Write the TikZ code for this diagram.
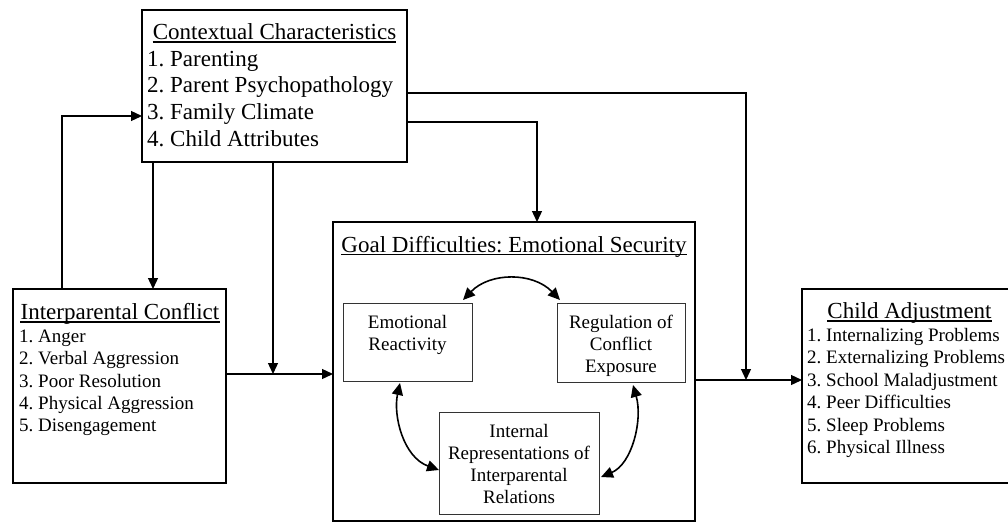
\documentclass[tikz,border=0pt]{standalone}
\usepackage{fontspec}
\setmainfont{Liberation Serif}
\usetikzlibrary{arrows.meta,calc}
\frenchspacing
\begin{document}
\begin{tikzpicture}[x=1pt,y=-1pt,
  bigbox/.style={draw, line width=2.8pt, inner sep=0pt, outer sep=0pt},
  smallbox/.style={draw=black!80, line width=0.9pt, inner sep=0pt, outer sep=0pt},
  ttl/.style={font=\fontsize{23}{26}\selectfont, anchor=base, inner sep=0pt},
  big/.style={font=\fontsize{23}{26}\selectfont, anchor=base west, inner sep=0pt},
  itm/.style={font=\fontsize{19}{22}\selectfont, anchor=base west, inner sep=0pt},
  ctr/.style={font=\fontsize{19}{22}\selectfont, anchor=base, inner sep=0pt},
  conn/.style={line width=1.3pt, -{Triangle[length=11pt,width=10pt]}},
  darr/.style={line width=1.6pt, {Triangle[length=12pt,width=11pt]}-{Triangle[length=12pt,width=11pt]}},
  uline/.style={line width=1.1pt}
]
\useasboundingbox (0,0) rectangle (1008,525);
% boxes
\node[bigbox, minimum width=265pt, minimum height=152pt] (ctx) at (274.5,86) {};
\node[bigbox, minimum width=213pt, minimum height=194pt] (ipc) at (119.5,386) {};
\node[bigbox, minimum width=211pt, minimum height=194pt] (cad) at (907.5,386) {};
\node[bigbox, minimum width=362pt, minimum height=299pt] (goal) at (514,371.5) {};
\node[smallbox, minimum width=129pt, minimum height=78pt] (er) at (407.5,342) {};
\node[smallbox, minimum width=128pt, minimum height=79pt] (rc) at (621,342.5) {};
\node[smallbox, minimum width=160pt, minimum height=102pt] (ir) at (519,463) {};
% contextual text
\node[ttl] (ctxt) at (274.5,39) {Contextual Characteristics};
\draw[uline] ($(ctxt.base west)+(0,3)$) -- ($(ctxt.base east)+(0,3)$);
\node[big] (c1) at (147,66) {1. Parenting};
\node[big] (c2) at (147,92.5) {2. Parent Psychopathology};
\node[big] (c3) at (147,119.5) {3. Family Climate};
\node[big] (c4) at (147,146) {4. Child Attributes};
% interparental text
\node[ttl] (ipct) at (120,319) {Interparental Conflict};
\draw[uline] ($(ipct.base west)+(0,3)$) -- ($(ipct.base east)+(0,3)$);
\node[itm] (i1) at (19,342) {1. Anger};
\node[itm] (i2) at (19,364.5) {2. Verbal Aggression};
\node[itm] (i3) at (19,387) {3. Poor Resolution};
\node[itm] (i4) at (19,409) {4. Physical Aggression};
\node[itm] (i5) at (19,431.5) {5. Disengagement};
% child adjustment text
\node[ttl] (cadt) at (909.5,318) {Child Adjustment};
\draw[uline] ($(cadt.base west)+(0,3)$) -- ($(cadt.base east)+(0,3)$);
\node[itm] (a1) at (807,341) {1. Internalizing Problems};
\node[itm] (a2) at (807,363.5) {2. Externalizing Problems};
\node[itm] (a3) at (807,386) {3. School Maladjustment};
\node[itm] (a4) at (807,408) {4. Peer Difficulties};
\node[itm] (a5) at (807,431) {5. Sleep Problems};
\node[itm] (a6) at (807,453) {6. Physical Illness};
% goal text
\node[ttl] (goalt) at (514,252) {Goal Difficulties: Emotional Security};
\draw[uline] ($(goalt.base west)+(0,2.5)$) -- ($(goalt.base east)+(0,2.5)$);
\node[ctr] (e1) at (407.5,328) {Emotional};
\node[ctr] (e2) at (407.5,350) {Reactivity};
\node[ctr] (r1) at (621,328) {Regulation of};
\node[ctr] (r2) at (621,350) {Conflict};
\node[ctr] (r3) at (621,372) {Exposure};
\node[ctr] (n1) at (519,437) {Internal};
\node[ctr] (n2) at (519,459) {Representations of};
\node[ctr] (n3) at (519,481) {Interparental};
\node[ctr] (n4) at (519,503) {Relations};
% junctions
\coordinate (j1) at (273,374);
\coordinate (j2) at (746,380);
% connectors
\draw[conn] ($(ipc.north west)+(49,0)$) |- ($(ctx.north west)+(0,106)$);
\draw[conn] ($(ctx.south west)+(11,0)$) -- ($(ipc.north west)+(140,0)$);
\draw[conn] ($(ctx.south west)+(131,0)$) -- (j1);
\draw[conn] (ipc.east |- j1) -- (goal.west |- j1);
\draw[conn] ($(ctx.north east)+(0,83)$) -| (j2);
\draw[conn] ($(ctx.north east)+(0,112)$) -| ($(goal.north west)+(204,0)$);
\draw[conn] (goal.east |- j2) -- (cad.west |- j2);
% curved double arrows
\draw[darr] ($(er.north east)+(-9,-3)$) .. controls (490,272) and (533,272) .. ($(rc.north west)+(3,-3)$);
\draw[darr] ($(er.south west)+(57,2)$) .. controls (393,415) and (403,457) .. ($(ir.north west)+(0,58)$);
\draw[darr] ($(rc.south west)+(76,3)$) .. controls (643,420) and (632,464) .. ($(ir.north east)+(2,65)$);
\end{tikzpicture}
\end{document}
